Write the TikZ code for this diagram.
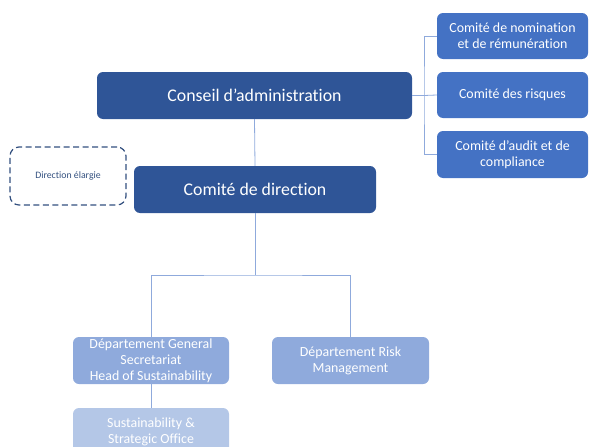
\documentclass[tikz,border=0pt]{standalone}
\usepackage{fontspec}
\setmainfont{Carlito}[Ligatures={NoCommon}]
\definecolor{cdark}{HTML}{2F5597}
\definecolor{cmed}{HTML}{4472C4}
\definecolor{clight}{HTML}{8FAADC}
\definecolor{clighter}{HTML}{B4C7E7}
\definecolor{cline}{HTML}{8FAADC}
\definecolor{cdash}{HTML}{33507F}
\begin{document}
\begin{tikzpicture}[x=1pt,y=-1pt,
  box/.style={rectangle, rounded corners=6pt, inner sep=0pt, align=center, text=white, draw=none},
  bigbox/.style={box, fill=cdark, font=\fontsize{17.8}{20}\selectfont},
  combox/.style={box, fill=cmed, minimum width=151pt, font=\fontsize{13.9}{16}\selectfont},
  deptbox/.style={box, fill=clight, minimum width=156pt, minimum height=47pt, font=\fontsize{13.9}{16}\selectfont},
  conn/.style={draw=cline, line width=0.8pt}]
\clip (0,0) rectangle (589,447);
\useasboundingbox (0,0) rectangle (589,447);

\node[bigbox, minimum width=315pt, minimum height=47pt] (ca) at (254.5,95.5) {Conseil d’administration};
\node[bigbox, minimum width=242pt, minimum height=47pt] (cd) at (255,189.5) {Comité de direction};
\node[box, rounded corners=9pt, draw=cdash, dash pattern=on 6pt off 3.5pt, line width=1.2pt, text=cdash, minimum width=116pt, minimum height=58pt, font=\fontsize{9.8}{11}\selectfont] (de) at (68,176) {Direction élargie};

\node[combox, minimum height=46pt] (c1) at (512.5,36) {Comité de nomination\\et de rémunération};
\node[combox, minimum height=46pt] (c2) at (512.5,95) {Comité des risques};
\node[combox, minimum height=47pt] (c3) at (512.5,154.5) {Comité d’audit et de\\compliance};

\node[deptbox] (dg) at (151,360.5) {Département General\\Secretariat\\Head of Sustainability};
\node[deptbox, minimum width=157pt] (rm) at (350.5,360.5) {Département Risk\\Management};
\node[deptbox, fill=clighter] (so) at (151,431.5) {Sustainability \&\\Strategic Office};

\coordinate (br) at (424,95.5);
\coordinate (bus) at (255,275);
\draw[conn] (ca.east) -- (br);
\draw[conn] (c1.west) -| (br) |- (c3.west);
\draw[conn] (br) -- (c2.west);
\draw[conn] (ca.south) -- (cd.north);
\draw[conn] (cd.south) -- (bus);
\draw[conn] (dg.north) |- (bus) -| (rm.north);
\draw[conn] (dg.south) -- (so.north);
\end{tikzpicture}
\end{document}
